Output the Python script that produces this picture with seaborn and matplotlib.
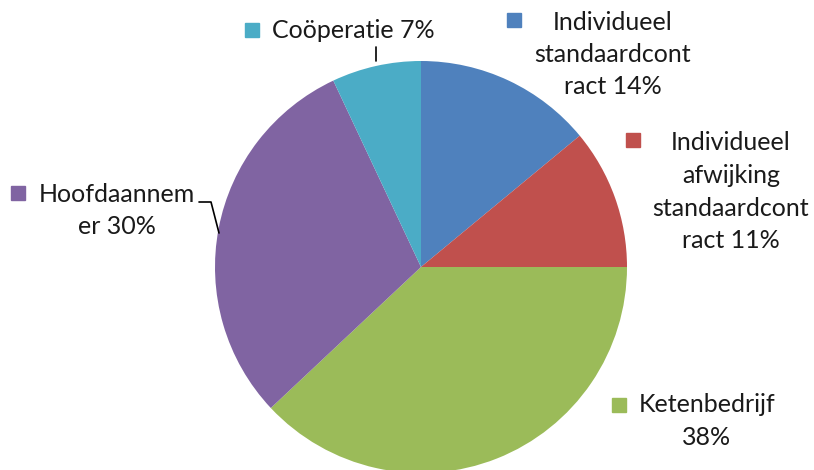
import matplotlib
matplotlib.use("Agg")
import matplotlib.pyplot as plt
import seaborn as sns
from matplotlib.patches import Rectangle
from matplotlib.lines import Line2D

sns.set_theme(style="white")
plt.rcParams['font.family'] = ['Lato', 'DejaVu Sans']

categories = ["Individueel standaardcontract", "Individueel afwijking standaardcontract",
              "Ketenbedrijf", "Hoofdaannemer", "Coöperatie"]
values = [14, 11, 38, 30, 7]
colors = ["#4F81BD", "#C0504D", "#9BBB59", "#8064A2", "#4BACC6"]
label_texts = ["Individueel\nstandaardcont\nract 14%",
               "Individueel\nafwijking\nstandaardcont\nract 11%",
               "Ketenbedrijf\n38%",
               "Hoofdaannem\ner 30%",
               "Coöperatie 7%"]

W, H = 814, 470
fig = plt.figure(figsize=(W / 100, H / 100), dpi=100)
fig.patch.set_facecolor("white")

cx, cy, r = 421, 267, 206
ax = fig.add_axes([(cx - r) / W, (H - cy - r) / H, 2 * r / W, 2 * r / H])
ax.pie(values, colors=colors, startangle=90, counterclock=False, radius=1,
       wedgeprops=dict(linewidth=0))
ax.set_xlim(-1, 1)
ax.set_ylim(-1, 1)
ax.set_aspect("equal")
ax.axis("off")

def fx(x):
    return x / W

def fy(y):
    return (H - y) / H

# label layout: (square center x, square center y, text center x, first line y)
layout = [
    (514, 20, 613, 22),
    (633, 140, 731, 143),
    (619, 405, 707, 405),
    (18, 193, 117, 194),
    (252, 30, None, 31),
]
line_h = 32.5
for (sx, sy, tx, ty), txt, col in zip(layout, label_texts, colors):
    fig.patches.append(Rectangle((fx(sx - 7), fy(sy + 7)), 14 / W, 14 / H,
                                 transform=fig.transFigure, color=col, figure=fig))
    if tx is None:
        fig.text(fx(272), fy(ty), txt, ha="left", va="center", fontsize=18, color="#1a1a1a")
    else:
        for i, line in enumerate(txt.split("\n")):
            fig.text(fx(tx), fy(ty + i * line_h), line, ha="center", va="center",
                     fontsize=18, color="#1a1a1a")

# leader lines
fig.lines.append(Line2D([fx(199), fx(211), fx(219)], [fy(202), fy(202), fy(233)],
                        transform=fig.transFigure, color="black", linewidth=1.2))
fig.lines.append(Line2D([fx(376), fx(376)], [fy(47), fy(61)],
                        transform=fig.transFigure, color="black", linewidth=1.2))

fig.savefig("out.png", dpi=100)
